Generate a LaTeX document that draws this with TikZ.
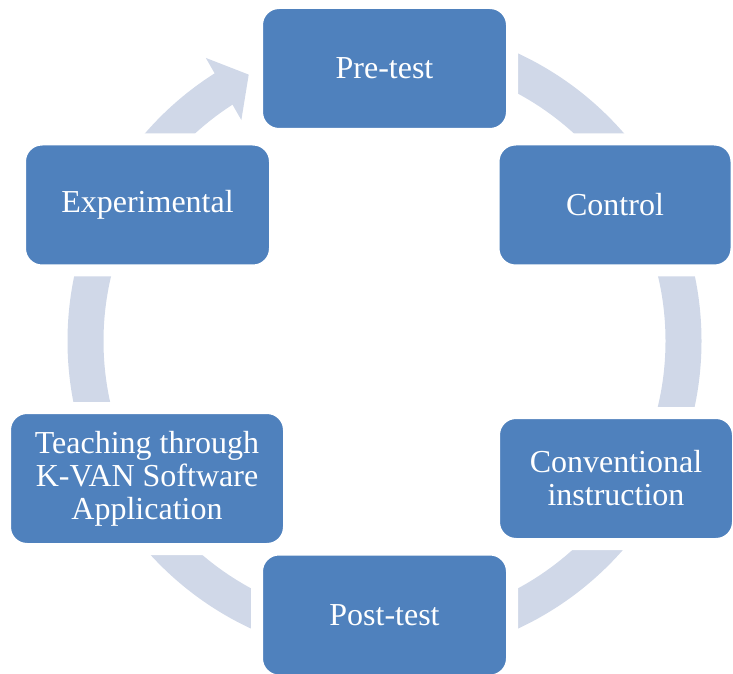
\documentclass[tikz,border=0pt]{standalone}
\usepackage{fontspec}
\setmainfont{Liberation Serif}
\usetikzlibrary{arrows.meta,bending}
\definecolor{bleu}{HTML}{4F81BD}
\definecolor{gris}{HTML}{D0D8E8}
\begin{document}
\begin{tikzpicture}[x=1pt,y=1pt]

% définition des styles
\tikzstyle{anneau}=[draw=gris,line width=36pt,-{Triangle[length=29pt,width=70pt]}]
\tikzstyle{boite}=[rectangle,rounded corners=22pt,fill=bleu,draw=white,line width=12pt,text=white,align=center,font=\fontsize{32}{33}\selectfont]

\useasboundingbox (0,0) rectangle (733,673);
\coordinate (centre) at (384.5,332);

% la flèche circulaire
\draw[anneau] (centre) ++(90:299) arc[start angle=90,end angle=-243,radius=299];

% les boîtes
\node[boite,minimum width=255pt,minimum height=131pt] (pre) at (384.5,604.5) {Pre-test};
\node[boite,minimum width=243pt,minimum height=131pt] (ctrl) at (615,468) {Control};
\node[boite,minimum width=244pt,minimum height=131pt] (conv) at (616,194.5) {Conventional\\instruction};
\node[boite,minimum width=255pt,minimum height=131pt] (post) at (384.5,58) {Post-test};
\node[boite,minimum width=284pt,minimum height=141pt] (teach) at (147,194.5) {Teaching through\\K-VAN Software\\Application};
\node[boite,minimum width=255pt,minimum height=131pt] (exper) at (147.5,468) {Experimental};

\end{tikzpicture}
\end{document}
